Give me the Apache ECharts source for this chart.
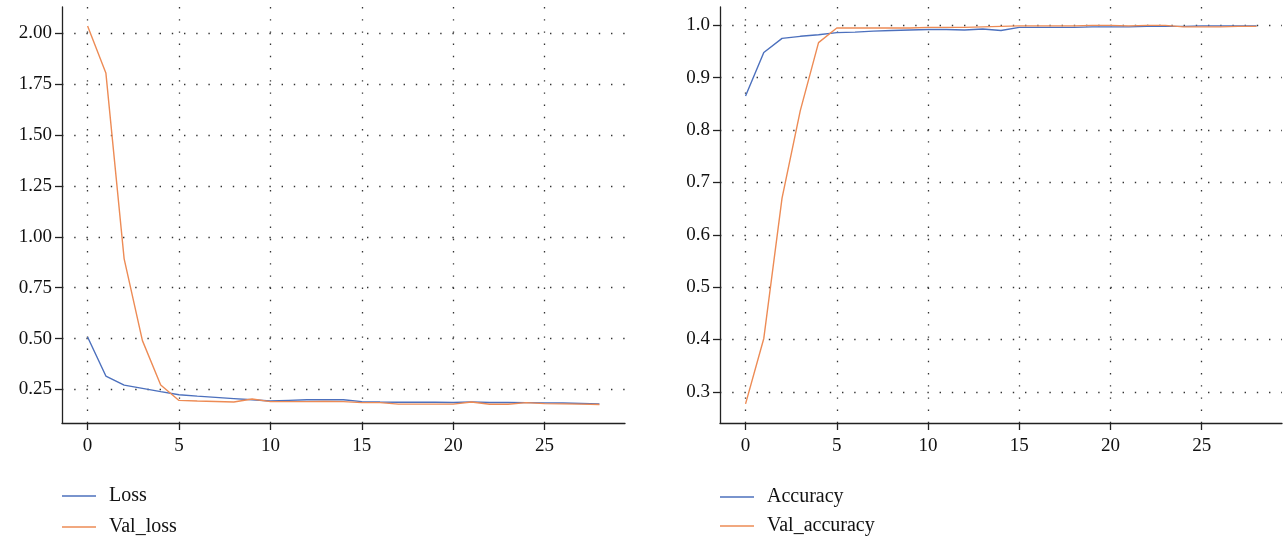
<!DOCTYPE html>
<html>
<head>
<meta charset="utf-8">
<script src="https://cdn.jsdelivr.net/npm/echarts@6/dist/echarts.min.js"></script>
<style>
  html, body { margin: 0; padding: 0; background: #fff; }
  #chart { width: 1287px; height: 541px; }
</style>
</head>
<body>
<div id="chart"></div>
<script>
// epochs 0..28
const epochs = Array.from({ length: 29 }, (_, i) => i)

const loss = [0.508, 0.316, 0.271, 0.255, 0.239, 0.224, 0.217, 0.211, 0.205, 0.199,
  0.193, 0.196, 0.199, 0.200, 0.199, 0.190, 0.188, 0.187, 0.187, 0.187,
  0.186, 0.188, 0.186, 0.186, 0.185, 0.184, 0.183, 0.181, 0.179]
const valLoss = [2.037, 1.806, 0.892, 0.490, 0.272, 0.196, 0.193, 0.191, 0.188, 0.203,
  0.190, 0.190, 0.190, 0.191, 0.190, 0.185, 0.185, 0.178, 0.178, 0.178,
  0.178, 0.188, 0.177, 0.177, 0.185, 0.180, 0.179, 0.178, 0.176]
const accuracy = [0.865, 0.948, 0.975, 0.979, 0.982, 0.986, 0.987, 0.989, 0.990, 0.991,
  0.992, 0.992, 0.991, 0.993, 0.990, 0.996, 0.996, 0.996, 0.996, 0.997,
  0.997, 0.997, 0.998, 0.998, 0.998, 0.999, 0.999, 0.999, 0.999]
const valAccuracy = [0.277, 0.402, 0.670, 0.837, 0.967, 0.995, 0.995, 0.995, 0.995, 0.995,
  0.996, 0.996, 0.996, 0.997, 0.998, 0.999, 0.999, 0.999, 0.999, 1.000,
  1.000, 0.999, 1.000, 1.000, 0.997, 0.997, 0.997, 0.998, 0.998]

const xTicks = [0, 5, 10, 15, 20, 25]
const lossTicks = [0.25, 0.5, 0.75, 1.0, 1.25, 1.5, 1.75, 2.0]
const accTicks = [0.3, 0.4, 0.5, 0.6, 0.7, 0.8, 0.9, 1.0]

const BLUE = '#4c70bd'
const ORANGE = '#ed8b55'
const FONT = 'Liberation Serif'

const pair = (ys) => epochs.map((x, i) => [x, ys[i]])

const dotted = {
  show: true,
  lineStyle: { color: '#333', width: 1.3, type: [1.4, 10.8] }
}

function xAxis (gridIndex) {
  return {
    type: 'value',
    gridIndex,
    min: -1.4,
    max: 29.4,
    axisLine: { show: true, onZero: false, lineStyle: { color: '#222', width: 1.3 } },
    axisTick: { show: true, inside: false, length: 7, customValues: xTicks, lineStyle: { color: '#222', width: 1.3 } },
    axisLabel: { customValues: xTicks, margin: 14, color: '#111', fontFamily: FONT, fontSize: 19 },
    splitLine: dotted
  }
}

function yAxis (gridIndex, min, max, ticks, digits) {
  return {
    type: 'value',
    gridIndex,
    min,
    max,
    axisLine: { show: true, onZero: false, lineStyle: { color: '#222', width: 1.3 } },
    axisTick: { show: true, inside: false, length: 7, customValues: ticks, lineStyle: { color: '#222', width: 1.3 } },
    axisLabel: {
      customValues: ticks,
      margin: 10,
      color: '#111',
      fontFamily: FONT,
      fontSize: 19,
      formatter: (v) => v.toFixed(digits)
    },
    splitLine: dotted
  }
}

function line (name, ys, axisIndex, color) {
  return {
    name,
    type: 'line',
    xAxisIndex: axisIndex,
    yAxisIndex: axisIndex,
    data: pair(ys),
    showSymbol: false,
    symbol: 'none',
    lineStyle: { color, width: 1.4 },
    itemStyle: { color },
    animation: false
  }
}

// one legend per entry so they stack exactly
function legendItem (left, top, name) {
  return {
    left,
    top,
    padding: 0,
    data: [name],
    icon: 'rect',
    itemWidth: 34,
    itemHeight: 1.5,
    textStyle: { fontFamily: FONT, fontSize: 20, color: '#111', padding: [0, 0, 0, 8] }
  }
}

const chart = echarts.init(document.getElementById('chart'), null, { renderer: 'canvas' })

chart.setOption({
  backgroundColor: '#ffffff',
  animation: false,
  grid: [
    { left: 62, right: 662, top: 7, bottom: 118 },
    { left: 720, right: 5, top: 7, bottom: 118 }
  ],
  xAxis: [xAxis(0), xAxis(1)],
  yAxis: [
    yAxis(0, 0.085, 2.13, lossTicks, 2),
    yAxis(1, 0.2405, 1.035, accTicks, 1)
  ],
  legend: [
    legendItem(62, 486, 'Loss'),
    legendItem(62, 517, 'Val_loss'),
    legendItem(720, 487, 'Accuracy'),
    legendItem(720, 516, 'Val_accuracy')
  ],
  series: [
    line('Loss', loss, 0, BLUE),
    line('Val_loss', valLoss, 0, ORANGE),
    line('Accuracy', accuracy, 1, BLUE),
    line('Val_accuracy', valAccuracy, 1, ORANGE)
  ]
})
</script>
</body>
</html>
